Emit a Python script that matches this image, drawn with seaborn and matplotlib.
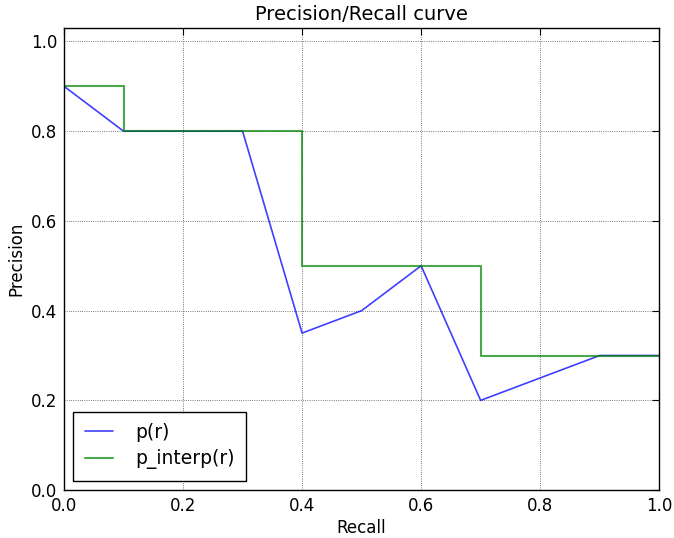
import matplotlib
matplotlib.use("Agg")
import matplotlib.pyplot as plt
import seaborn as sns
import pandas as pd

recall = [0.0, 0.1, 0.2, 0.3, 0.4, 0.5, 0.6, 0.7, 0.8, 0.9, 1.0]
precision = [0.9, 0.8, 0.8, 0.8, 0.35, 0.4, 0.5, 0.2, 0.25, 0.3, 0.3]
precision_interp = [0.9, 0.8, 0.8, 0.8, 0.5, 0.5, 0.5, 0.3, 0.3, 0.3, 0.3]

sns.set_style("white")
plt.rcParams['font.family'] = ['DejaVu Sans']
plt.rcParams['text.color'] = 'black'
plt.rcParams['axes.labelcolor'] = 'black'
plt.rcParams['xtick.color'] = 'black'
plt.rcParams['ytick.color'] = 'black'

df = pd.DataFrame({"recall": recall, "p": precision, "pi": precision_interp})

fig = plt.figure(figsize=(6.74, 5.38), dpi=100)
ax = fig.add_axes([0.095, 0.089, 0.883, 0.859])

sns.lineplot(data=df, x="recall", y="p", ax=ax, color=(0, 0, 1), alpha=0.75,
             lw=1.2, label="p(r)", sort=False, estimator=None)
sns.lineplot(data=df, x="recall", y="pi", ax=ax, color=(0, 0.5, 0), alpha=0.7,
             lw=1.5, label="p_interp(r)", sort=False, estimator=None,
             drawstyle="steps-post")

ax.set_xlim(0, 1.0)
ax.set_ylim(0, 1.03)
ax.set_xticks([0, 0.2, 0.4, 0.6, 0.8, 1.0])
ax.set_yticks([0, 0.2, 0.4, 0.6, 0.8, 1.0])
ax.set_xticklabels(["0.0", "0.2", "0.4", "0.6", "0.8", "1.0"])
ax.set_yticklabels(["0.0", "0.2", "0.4", "0.6", "0.8", "1.0"])
ax.tick_params(direction="in", top=True, right=True, length=5, width=0.8,
               labelsize=12, colors="black", pad=5)
ax.grid(True, linestyle=":", color="black", linewidth=0.6, alpha=0.7)
for s in ax.spines.values():
    s.set_color("black")
    s.set_linewidth(1.0)

ax.set_xlabel("Recall", fontsize=12, labelpad=3)
ax.set_ylabel("Precision", fontsize=12, labelpad=4)
ax.set_title("Precision/Recall curve", fontsize=14, color="black")

leg = ax.legend(loc="lower left", fontsize=13.5, fancybox=False, frameon=True,
                borderpad=0.6, handlelength=1.5, handletextpad=1.2,
                borderaxespad=0.5, labelspacing=0.4)
leg.get_frame().set_edgecolor("black")
leg.get_frame().set_linewidth(1.0)
leg.get_frame().set_alpha(1.0)
for t in leg.get_texts():
    t.set_color("black")

fig.savefig("out.png", dpi=100)
